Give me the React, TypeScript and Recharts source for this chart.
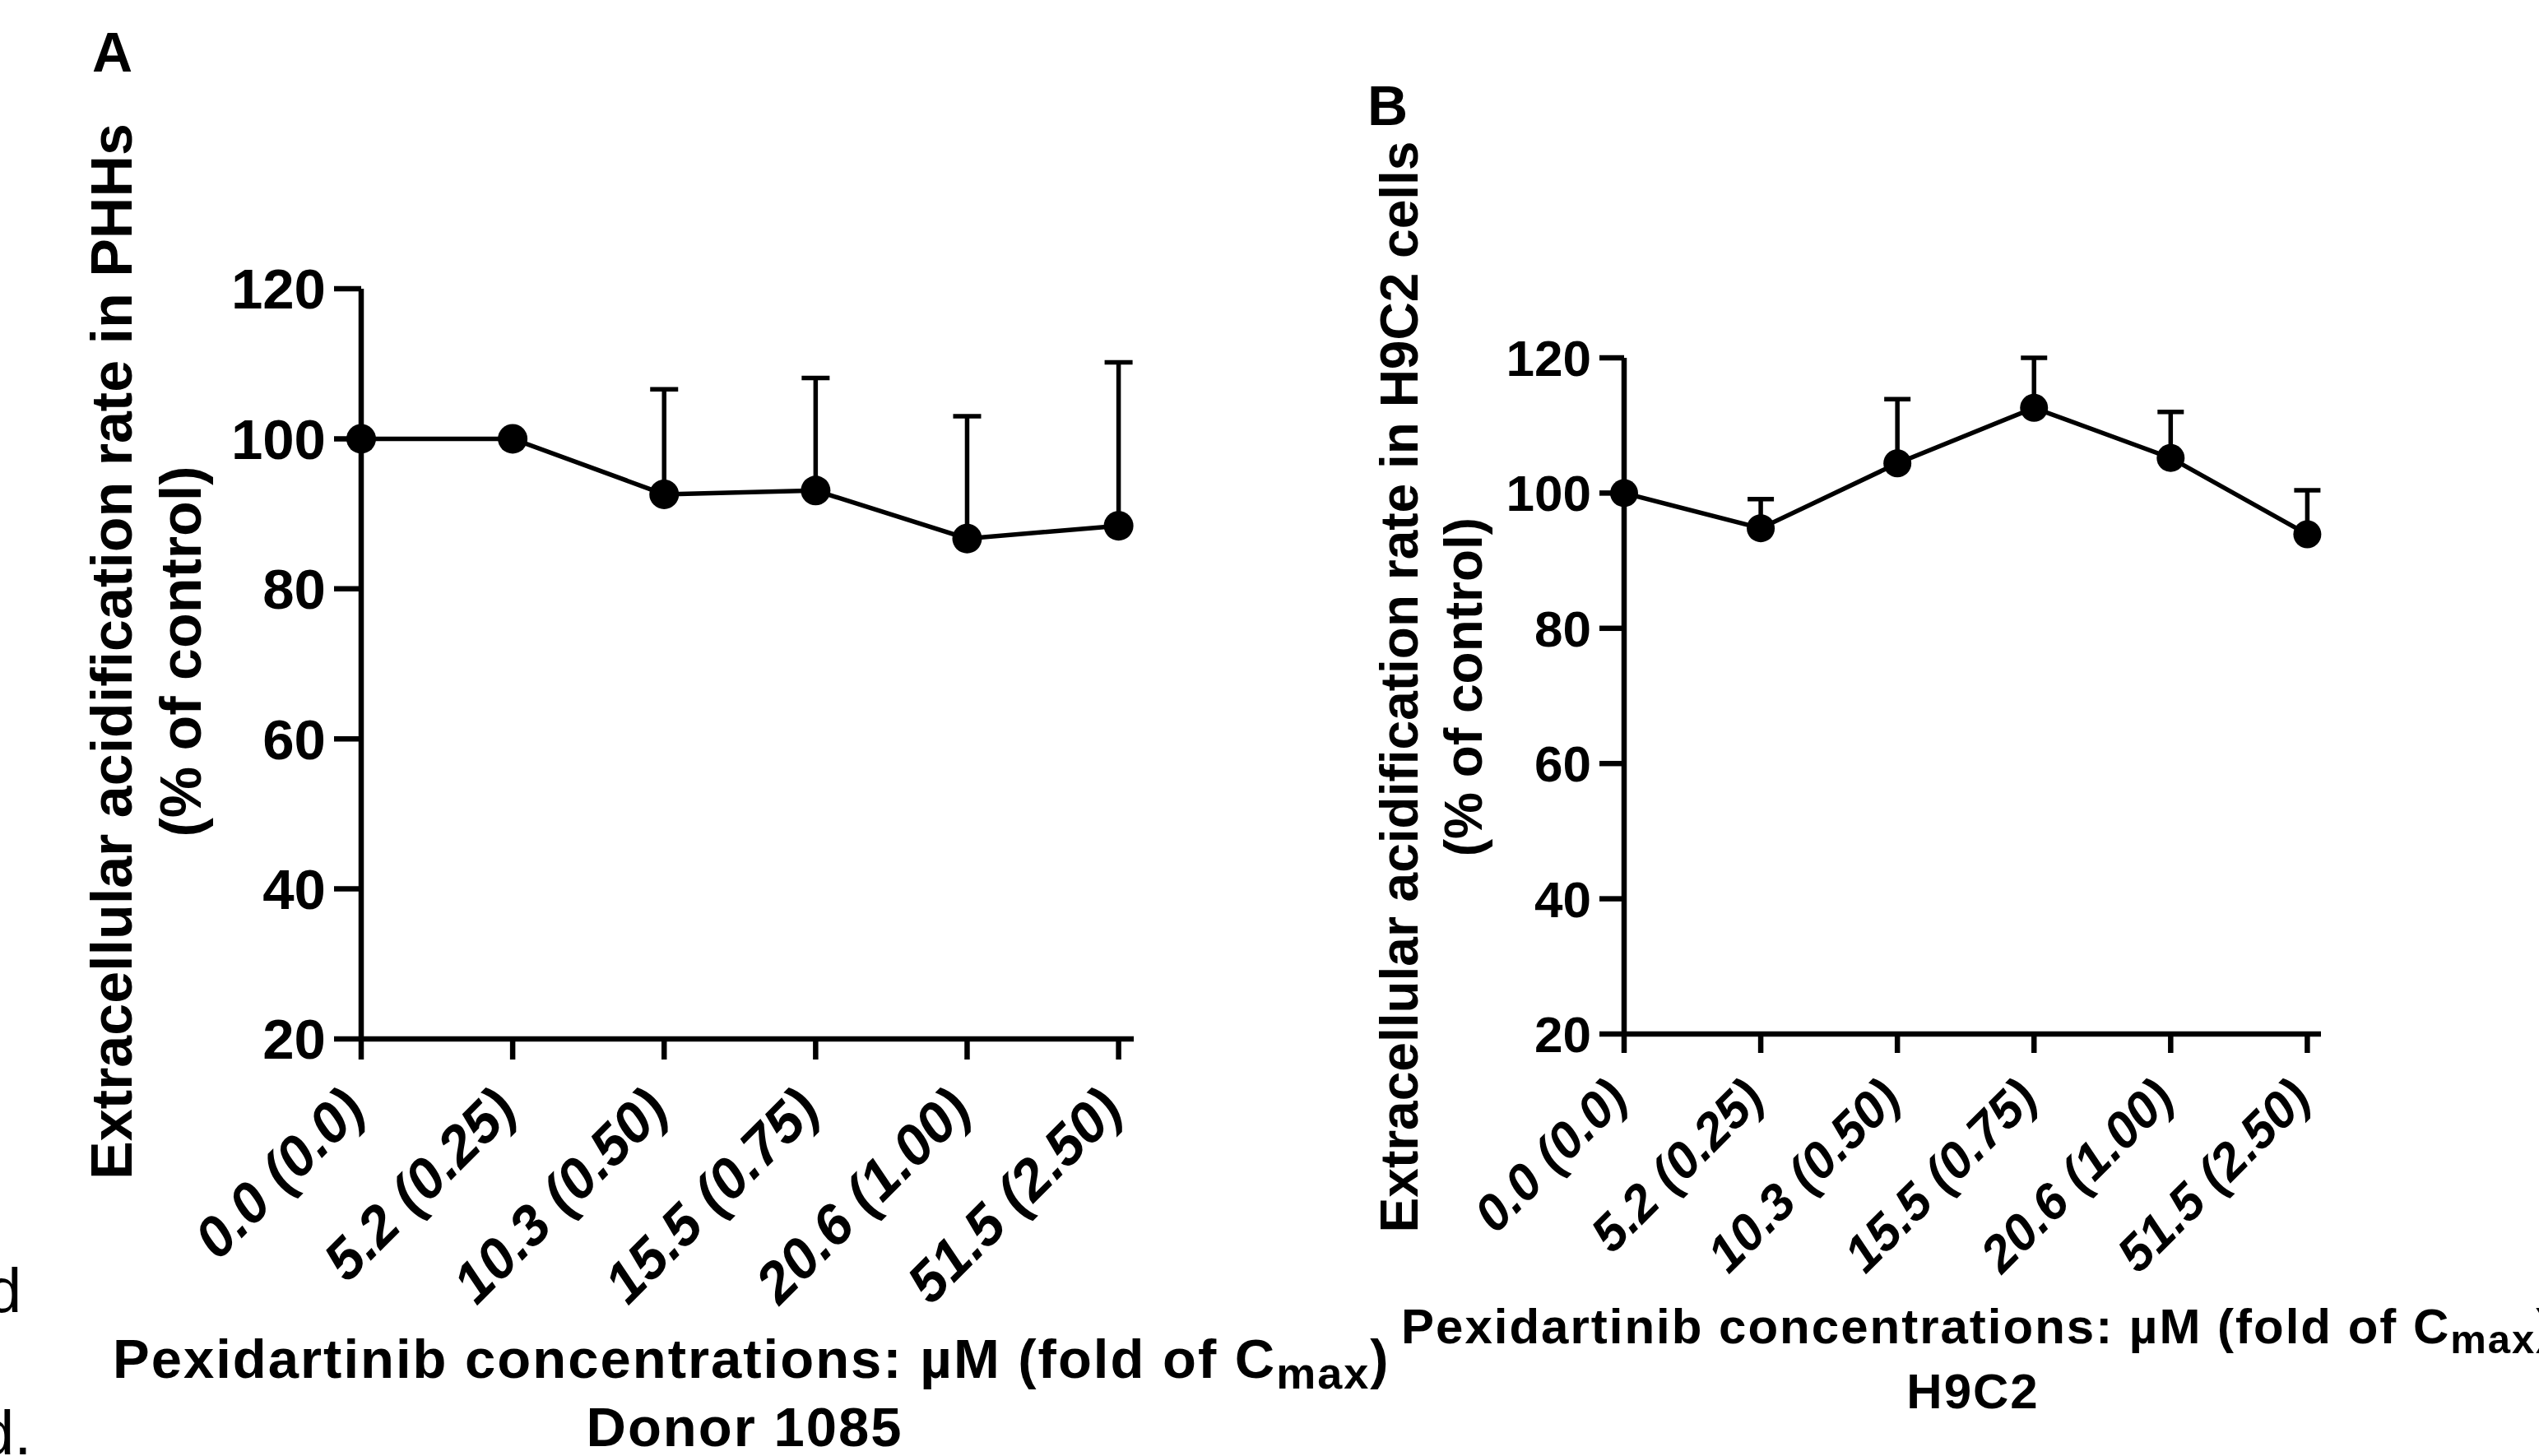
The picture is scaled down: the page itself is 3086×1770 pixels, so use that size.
import React from 'react';
import { LineChart, Line, XAxis, YAxis, ErrorBar } from 'recharts';

// x categories: µM (fold of Cmax)
const doseLabels = ['0.0 (0.0)', '5.2 (0.25)', '10.3 (0.50)', '15.5 (0.75)', '20.6 (1.00)', '51.5 (2.50)'];
const yTicks = [20, 40, 60, 80, 100, 120];

// panel A: PHHs, donor 1085 (mean, upper SD)
const phhMean = [100, 100, 92.6, 93.1, 86.7, 88.4];
const phhSd = [0, 0, 14.0, 15.0, 16.3, 21.8];

// panel B: H9C2 cells
const h9c2Mean = [100, 94.8, 104.4, 112.6, 105.2, 93.9];
const h9c2Sd = [0, 4.3, 9.5, 7.4, 6.8, 6.5];

const FONT = '"Liberation Sans", Arial, sans-serif';
const INK = '#000';

const toRows = (mean: number[], sd: number[]) =>
  mean.map((m, i) => ({ idx: i, mean: m, err: [0, sd[i]] }));

const makeXTick = (fontSize: number, dx: number, dy: number) => (props: any) => {
  const { x, y, payload } = props;
  const ax = x + dx;
  const ay = y + dy;
  return (
    <text
      x={ax}
      y={ay}
      transform={`rotate(-45, ${ax}, ${ay})`}
      textAnchor="end"
      fontSize={fontSize}
      fontWeight="bold"
      fontStyle="italic"
      fontFamily={FONT}
      fill={INK}
    >
      {doseLabels[payload.value]}
    </text>
  );
};

interface PanelProps {
  mean: number[];
  sd: number[];
  width: number;
  height: number;
  margin: { top: number; right: number; bottom: number; left: number };
  tickFont: number;
  yTickFont: number;
  xTickSize: number;
  yTickSize: number;
  xTickDx: number;
  xTickDy: number;
  dotR: number;
  capW: number;
}

function Panel({ mean, sd, width, height, margin, tickFont, yTickFont, xTickSize, yTickSize, xTickDx, xTickDy, dotR, capW }: PanelProps) {
  const axisStyle = { stroke: INK, strokeWidth: 6.5 };
  return (
    <LineChart width={width} height={height} data={toRows(mean, sd)} margin={margin}>
      <XAxis
        dataKey="idx"
        type="number"
        domain={[0, 5.1]}
        ticks={[0, 1, 2, 3, 4, 5]}
        interval={0}
        height={100}
        axisLine={axisStyle}
        tickLine={axisStyle}
        tickSize={xTickSize}
        tickMargin={0}
        tick={makeXTick(tickFont, xTickDx, xTickDy)}
      />
      <YAxis
        type="number"
        domain={[20, 120]}
        ticks={yTicks}
        interval={0}
        width={100}
        axisLine={axisStyle}
        tickLine={axisStyle}
        tickSize={yTickSize}
        tickMargin={10}
        tick={{ fontSize: yTickFont, fontWeight: 'bold', fill: INK, fontFamily: FONT }}
      />
      <Line
        type="linear"
        dataKey="mean"
        stroke={INK}
        strokeWidth={5.5}
        dot={{ r: dotR, fill: INK, stroke: INK, strokeWidth: 0 }}
        activeDot={false}
        isAnimationActive={false}
      >
        <ErrorBar dataKey="err" direction="y" width={capW} stroke={INK} strokeWidth={5.5} isAnimationActive={false} />
      </Line>
    </LineChart>
  );
}

export default function App() {
  const bold = { fontFamily: FONT, fontWeight: 'bold' as const, fill: INK };
  return (
    <div style={{ position: 'absolute', left: 0, top: 0, width: 3086, height: 1770, overflow: 'hidden', background: '#fff' }}>
      <div style={{ position: 'absolute', left: 0, top: 0 }}>
        <Panel
          mean={phhMean}
          sd={phhSd}
          width={1540}
          height={1770}
          margin={{ top: 351, right: 162, bottom: 407, left: 339 }}
          tickFont={69}
          yTickFont={69}
          xTickSize={25}
          yTickSize={33}
          xTickDx={8}
          xTickDy={64}
          dotR={18}
          capW={17}
        />
      </div>
      <div style={{ position: 'absolute', left: 1540, top: 0 }}>
        <Panel
          mean={h9c2Mean}
          sd={h9c2Sd}
          width={1546}
          height={1770}
          margin={{ top: 435, right: 265, bottom: 413, left: 334 }}
          tickFont={62}
          yTickFont={62}
          xTickSize={23}
          yTickSize={30}
          xTickDx={7}
          xTickDy={58}
          dotR={17}
          capW={16}
        />
      </div>
      <svg width={3086} height={1770} style={{ position: 'absolute', left: 0, top: 0, pointerEvents: 'none' }}>
        {/* page text clipped at the left edge */}
        <text x={-16} y={1595} fontSize={76} fontFamily={FONT} fill={INK}>d</text>
        <text x={-25} y={1768} fontSize={76} fontFamily={FONT} fill={INK}>d.</text>

        {/* panel letters */}
        <text x={112} y={87} fontSize={68} {...bold}>A</text>
        <text x={1662} y={152} fontSize={68} {...bold}>B</text>

        {/* panel A titles */}
        <text x={160} y={792} transform="rotate(-90, 160, 792)" textAnchor="middle" fontSize={70} {...bold}>
          Extracellular acidification rate in PHHs
        </text>
        <text x={244} y={792} transform="rotate(-90, 244, 792)" textAnchor="middle" fontSize={70} {...bold}>
          (% of control)
        </text>
        <text x={137} y={1675} fontSize={67} letterSpacing={2} {...bold}>
          Pexidartinib concentrations: µM (fold of C
          <tspan fontSize={54} dy={13}>max</tspan>
          <tspan dy={-13}>)</tspan>
        </text>
        <text x={905} y={1758} textAnchor="middle" fontSize={67} letterSpacing={2} {...bold}>
          Donor 1085
        </text>

        {/* panel B titles */}
        <text x={1723} y={835} transform="rotate(-90, 1723, 835)" textAnchor="middle" fontSize={64} {...bold}>
          Extracellular acidification rate in H9C2 cells
        </text>
        <text x={1801} y={835} transform="rotate(-90, 1801, 835)" textAnchor="middle" fontSize={64} {...bold}>
          (% of control)
        </text>
        <text x={1703} y={1633} fontSize={60} letterSpacing={2} {...bold}>
          Pexidartinib concentrations: µM (fold of C
          <tspan fontSize={49} dy={12}>max</tspan>
          <tspan dy={-12}>)</tspan>
        </text>
        <text x={2398} y={1712} textAnchor="middle" fontSize={60} letterSpacing={2} {...bold}>
          H9C2
        </text>
      </svg>
    </div>
  );
}
